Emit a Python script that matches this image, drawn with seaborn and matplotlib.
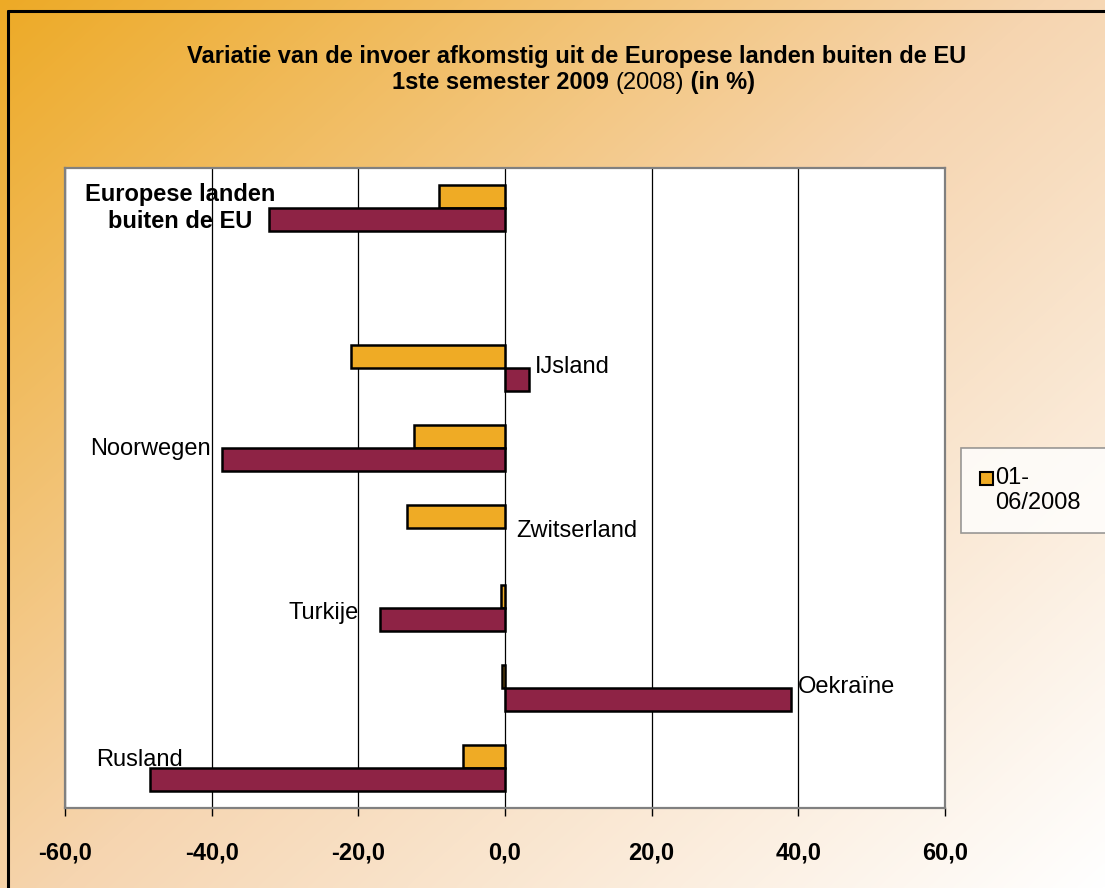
import numpy as np
import pandas as pd
import matplotlib.pyplot as plt
import seaborn as sns
from matplotlib.lines import Line2D
from matplotlib.patches import Patch

# data
categories = ["Europese landen\nbuiten de EU", " ", "IJsland", "Noorwegen",
              "Zwitserland", "Turkije", "Oekraïne", "Rusland"]
series = ["01-06/2008", "01-06/2009"]
values_2008 = [-9.0, np.nan, -21.0, -12.4, -13.4, -0.5, -0.4, -5.7]
values_2009 = [-32.2, np.nan, 3.3, -38.6, np.nan, -17.0, 39.0, -48.4]
x_ticks = [-60, -40, -20, 0, 20, 40, 60]

orange = "#EFAB25"
maroon = "#8E2345"

df = pd.DataFrame({
    "land": categories * 2,
    "periode": [series[0]] * len(categories) + [series[1]] * len(categories),
    "waarde": values_2008 + values_2009,
})

sns.set_style("white")
plt.rcParams["font.family"] = ["Liberation Sans", "DejaVu Sans"]
plt.rcParams["text.color"] = "black"
plt.rcParams["xtick.color"] = "black"

W, H = 1105, 888
fig = plt.figure(figsize=(W / 100, H / 100), dpi=100)

# gradient background: orange -> peach -> white, diagonal from top-left
bg = fig.add_axes([0, 0, 1, 1], zorder=-10)
yy, xx = np.mgrid[0:1:300j, 0:1:300j]
t = (xx * 0.95 + yy * 0.85) / 2
stops = np.array([0.0, 0.45, 0.9])
cols = np.array([[237, 170, 38], [246, 213, 176], [255, 255, 255]]) / 255
img = np.stack([np.interp(t, stops, cols[:, k]) for k in range(3)], axis=-1)
bg.imshow(img, aspect="auto", extent=[0, 1, 0, 1], interpolation="bilinear")
bg.axis("off")

# outer frame (top and left edges visible)
fig.add_artist(Line2D([8 / W, 1], [1 - 11 / H, 1 - 11 / H], transform=fig.transFigure, color="black", lw=2.2))
fig.add_artist(Line2D([8 / W, 8 / W], [0, 1 - 11 / H], transform=fig.transFigure, color="black", lw=2.2))

ax = fig.add_axes([65 / W, 80 / H, 880 / W, 640 / H])
ax.set_facecolor("white")
sns.barplot(data=df, y="land", x="waarde", hue="periode", order=categories, hue_order=series,
            palette=[orange, maroon], orient="h", width=0.575, saturation=1,
            edgecolor="black", linewidth=1.8, errorbar=None, legend=False, ax=ax)

ax.set_xlim(-60, 60)
ax.set_xticks(x_ticks)
ax.set_xticklabels([f"{v:.1f}".replace(".", ",") for v in x_ticks], fontsize=17, fontweight="bold")
ax.tick_params(axis="x", direction="out", length=6, width=1, color="black", pad=18, bottom=True)
ax.set_yticks([])
ax.set_xlabel("")
ax.set_ylabel("")
ax.xaxis.grid(True, color="black", lw=0.9)
ax.set_axisbelow(True)
for s in ax.spines.values():
    s.set_color("#808080")
    s.set_linewidth(1.6)

# category labels placed next to the bars
ax.text(-44.3, 0.0, "Europese landen\nbuiten de EU", ha="center", va="center",
        fontsize=17, fontweight="bold", multialignment="center", linespacing=1.2)
ax.text(4.1, 1.99, "IJsland", ha="left", va="center", fontsize=17)
ax.text(-40.1, 3.01, "Noorwegen", ha="right", va="center", fontsize=17)
ax.text(1.5, 4.04, "Zwitserland", ha="left", va="center", fontsize=17)
ax.text(-20.0, 5.06, "Turkije", ha="right", va="center", fontsize=17)
ax.text(40.0, 5.99, "Oekraïne", ha="left", va="center", fontsize=17)
ax.text(-43.9, 6.9, "Rusland", ha="right", va="center", fontsize=17)

# title, second line mixes bold and normal text
fig.text(577 / W, 1 - 56 / H, "Variatie van de invoer afkomstig uit de Europese landen buiten de EU",
         ha="center", va="center", fontsize=17, fontweight="bold")
mid = fig.text(650 / W, 1 - 83 / H, "(2008)", ha="center", va="center", fontsize=17)
ax.annotate("1ste semester 2009 ", xy=(0, 0), xycoords=mid, ha="right", va="bottom",
            fontsize=17, fontweight="bold", annotation_clip=False)
ax.annotate(" (in %)", xy=(1, 0), xycoords=mid, ha="left", va="bottom",
            fontsize=17, fontweight="bold", annotation_clip=False)

# legend shows only the first series, box runs off the right edge
handle = Patch(facecolor=orange, edgecolor="black", lw=1.5)
leg = fig.legend([handle], ["01-\n06/2008"], loc="upper left",
                 bbox_to_anchor=(961 / W, 1 - 448 / H, 160 / W, 0), mode="expand",
                 fontsize=17, frameon=True, fancybox=False, edgecolor="#808080",
                 borderpad=0.8, handlelength=0.55, handleheight=0.45, handletextpad=0.1,
                 borderaxespad=0, labelspacing=0)
leg.get_frame().set_linewidth(1.2)
leg.get_frame().set_facecolor("white")
p = leg.get_patches()[0]
p.set_y(p.get_y() + 9)

fig.savefig("out.png", dpi=100)
